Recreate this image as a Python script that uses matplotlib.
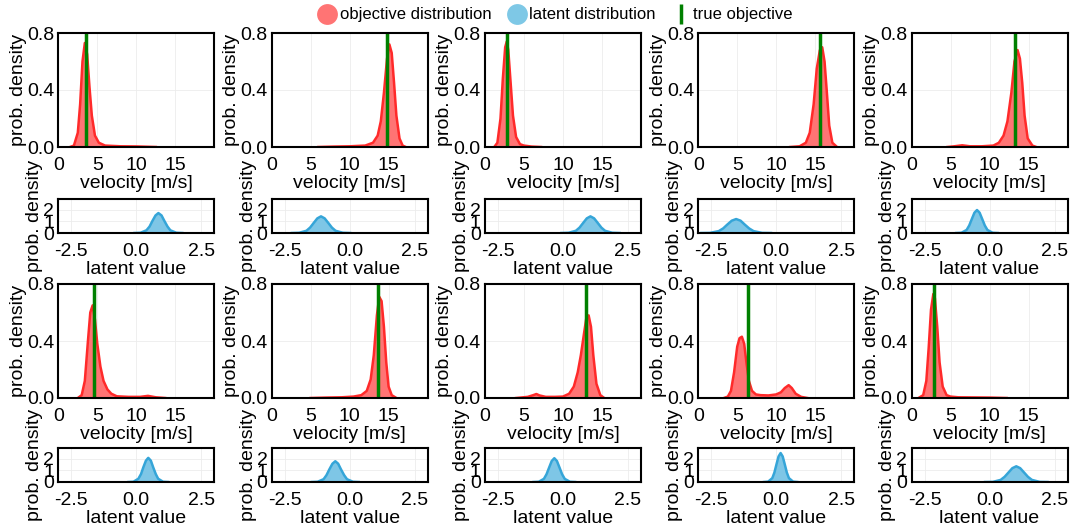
import numpy as np
import matplotlib
matplotlib.use('Agg')
import matplotlib.pyplot as plt
from matplotlib.lines import Line2D

plt.rcParams['font.family'] = ['Liberation Sans', 'DejaVu Sans']

# objective distributions (velocity [m/s] -> prob. density)
obj_x = [
    [1.5, 2.0, 2.5, 2.8, 3.1, 3.4, 3.7, 4.0, 4.3, 4.7, 5.2, 6.0, 8.0, 10.0, 12.5],
    [6.0, 8.0, 10.0, 12.0, 13.0, 13.6, 14.0, 14.4, 14.8, 15.1, 15.4, 15.7, 16.0, 16.4, 16.8, 17.2],
    [1.2, 1.6, 2.0, 2.3, 2.6, 2.8, 3.0, 3.3, 3.6, 4.0, 4.5, 5.0, 6.0, 7.2],
    [11.8, 13.0, 13.8, 14.3, 14.8, 15.2, 15.6, 15.9, 16.2, 16.5, 16.8, 17.2, 17.8],
    [4.6, 5.5, 6.5, 7.5, 9.0, 10.5, 11.2, 11.8, 12.3, 12.8, 13.2, 13.6, 13.9, 14.2, 14.5, 14.9, 15.5, 16.0],
    [2.5, 3.0, 3.4, 3.8, 4.1, 4.4, 4.7, 5.0, 5.4, 5.8, 6.3, 6.8, 7.5, 9.0, 10.5, 11.5, 12.5, 13.7],
    [5.0, 7.0, 9.0, 10.5, 11.5, 12.2, 12.7, 13.1, 13.5, 13.8, 14.1, 14.4, 14.7, 15.0, 15.4, 16.0],
    [4.0, 5.5, 6.2, 6.6, 7.0, 7.8, 9.0, 10.0, 10.8, 11.4, 11.9, 12.3, 12.7, 13.0, 13.3, 13.6, 13.9, 14.3, 14.8, 15.3],
    [3.3, 3.8, 4.2, 4.6, 5.0, 5.3, 5.6, 5.9, 6.2, 6.5, 6.9, 7.4, 8.0, 9.0, 10.0, 10.6, 11.1, 11.6, 12.0, 12.5, 13.2, 14.0],
    [0.9, 1.5, 1.9, 2.2, 2.5, 2.8, 3.0, 3.3, 3.6, 4.0, 4.5, 5.0, 6.0, 8.0, 10.0, 12.2],
]
obj_y = [
    [0, 0.01, 0.10, 0.30, 0.60, 0.73, 0.65, 0.42, 0.22, 0.08, 0.03, 0.01, 0.005, 0.004, 0],
    [0, 0.003, 0.005, 0.01, 0.03, 0.08, 0.18, 0.38, 0.62, 0.72, 0.66, 0.45, 0.22, 0.06, 0.01, 0],
    [0, 0.03, 0.20, 0.48, 0.70, 0.74, 0.68, 0.45, 0.22, 0.07, 0.02, 0.01, 0.003, 0],
    [0, 0.005, 0.03, 0.10, 0.30, 0.55, 0.68, 0.70, 0.60, 0.38, 0.15, 0.03, 0],
    [0, 0.005, 0.012, 0.005, 0.005, 0.01, 0.03, 0.08, 0.18, 0.38, 0.60, 0.68, 0.62, 0.45, 0.22, 0.06, 0.01, 0],
    [0, 0.02, 0.12, 0.40, 0.60, 0.65, 0.55, 0.38, 0.22, 0.12, 0.06, 0.03, 0.012, 0.008, 0.008, 0.015, 0.005, 0],
    [0, 0.003, 0.005, 0.01, 0.02, 0.05, 0.13, 0.30, 0.58, 0.71, 0.68, 0.50, 0.25, 0.08, 0.02, 0],
    [0, 0.008, 0.02, 0.028, 0.018, 0.008, 0.008, 0.01, 0.03, 0.08, 0.18, 0.30, 0.45, 0.56, 0.58, 0.50, 0.30, 0.10, 0.02, 0],
    [0, 0.01, 0.05, 0.18, 0.36, 0.42, 0.43, 0.38, 0.24, 0.12, 0.05, 0.025, 0.02, 0.018, 0.025, 0.04, 0.07, 0.09, 0.07, 0.03, 0.008, 0],
    [0, 0.02, 0.12, 0.35, 0.62, 0.73, 0.70, 0.50, 0.25, 0.08, 0.02, 0.01, 0.005, 0.004, 0.003, 0],
]
true_objective = [3.5, 14.85, 2.8, 15.6, 13.3, 4.6, 13.7, 12.9, 6.4, 2.9]

# latent distributions
lat_x = [
    [-0.07, 0.16, 0.39, 0.51, 0.62, 0.74, 0.85, 0.97, 1.08, 1.20, 1.31, 1.54, 1.77],
    [-2.22, -1.94, -1.66, -1.52, -1.38, -1.24, -1.10, -0.96, -0.82, -0.68, -0.54, -0.26, 0.02],
    [-0.06, 0.22, 0.50, 0.64, 0.78, 0.92, 1.06, 1.20, 1.34, 1.48, 1.62, 1.90, 2.18],
    [-2.88, -2.55, -2.21, -2.04, -1.88, -1.71, -1.54, -1.37, -1.21, -1.04, -0.87, -0.54, -0.20],
    [-1.28, -1.08, -0.88, -0.78, -0.68, -0.58, -0.48, -0.38, -0.28, -0.18, -0.08, 0.12, 0.32],
    [-0.30, -0.11, 0.08, 0.18, 0.27, 0.37, 0.46, 0.56, 0.65, 0.75, 0.84, 1.03, 1.22],
    [-1.45, -1.23, -1.00, -0.89, -0.78, -0.66, -0.55, -0.44, -0.33, -0.21, -0.10, 0.13, 0.35],
    [-1.13, -0.93, -0.73, -0.63, -0.53, -0.43, -0.33, -0.23, -0.13, -0.03, 0.07, 0.27, 0.47],
    [-0.47, -0.31, -0.15, -0.07, 0.01, 0.09, 0.17, 0.25, 0.33, 0.41, 0.49, 0.65, 0.81],
    [-0.17, 0.13, 0.43, 0.58, 0.73, 0.88, 1.03, 1.18, 1.33, 1.48, 1.63, 1.93, 2.23],
]
lat_y = [
    [0, 0.02, 0.23, 0.55, 1.03, 1.50, 1.70, 1.50, 1.03, 0.55, 0.23, 0.02, 0],
    [0, 0.02, 0.19, 0.46, 0.86, 1.25, 1.42, 1.25, 0.86, 0.46, 0.19, 0.02, 0],
    [0, 0.02, 0.19, 0.46, 0.86, 1.25, 1.42, 1.25, 0.86, 0.46, 0.19, 0.02, 0],
    [0, 0.01, 0.16, 0.39, 0.72, 1.05, 1.19, 1.05, 0.72, 0.39, 0.16, 0.01, 0],
    [0, 0.02, 0.26, 0.64, 1.19, 1.73, 1.96, 1.73, 1.19, 0.64, 0.26, 0.02, 0],
    [0, 0.02, 0.28, 0.67, 1.25, 1.82, 2.06, 1.82, 1.25, 0.67, 0.28, 0.02, 0],
    [0, 0.02, 0.24, 0.58, 1.07, 1.56, 1.77, 1.56, 1.07, 0.58, 0.24, 0.02, 0],
    [0, 0.02, 0.27, 0.66, 1.23, 1.79, 2.03, 1.79, 1.23, 0.66, 0.27, 0.02, 0],
    [0, 0.03, 0.33, 0.80, 1.50, 2.18, 2.47, 2.18, 1.50, 0.80, 0.33, 0.03, 0],
    [0, 0.01, 0.18, 0.44, 0.81, 1.18, 1.34, 1.18, 0.81, 0.44, 0.18, 0.01, 0],
]

W, H = 1073, 530
FS = 14
fig = plt.figure(figsize=(W / 100, H / 100), dpi=100)

def px_axes(left, top, width, height):
    return fig.add_axes([left / W, 1 - (top + height) / H, width / W, height / H])

def style(ax):
    for s in ax.spines.values():
        s.set_linewidth(1.5)
    ax.grid(True, color='#ececec', linewidth=0.6)
    ax.set_axisbelow(True)
    ax.tick_params(length=0, labelsize=FS)
    ax.tick_params(axis='x', pad=7)
    ax.tick_params(axis='y', pad=3)

red_line = '#ff2a2a'
red_fill = '#ff7474'
blue_line = '#35a5d8'
blue_fill = '#7ec6e6'

for i in range(10):
    row, col = divmod(i, 5)
    left = 58.3 + col * 213.3
    top_big = 33 if row == 0 else 284
    top_small = 199 if row == 0 else 448

    ax = px_axes(left, top_big, 156, 114)
    style(ax)
    ax.fill_between(obj_x[i], obj_y[i], color=red_fill, linewidth=0)
    ax.plot(obj_x[i], obj_y[i], color=red_line, linewidth=1.8)
    ax.axvline(true_objective[i], color='green', linewidth=2.5)
    ax.set_xlim(0, 20)
    ax.set_ylim(0, 0.8)
    ax.set_xticks([0, 5, 10, 15])
    ax.set_yticks([0.0, 0.4, 0.8])
    ax.set_yticklabels(['0.0', '0.4', '0.8'])
    ax.set_xlabel('velocity [m/s]', fontsize=FS, labelpad=1)
    ax.set_ylabel('prob. density', fontsize=FS, labelpad=0)

    ax2 = px_axes(left, top_small, 156, 34)
    style(ax2)
    ax2.fill_between(lat_x[i], lat_y[i], color=blue_fill, linewidth=0)
    ax2.plot(lat_x[i], lat_y[i], color=blue_line, linewidth=1.8)
    ax2.set_xlim(-3, 3)
    ax2.set_ylim(0, 2.9)
    ax2.set_xticks([-2.5, 0.0, 2.5])
    ax2.set_xticklabels(['-2.5', '0.0', '2.5'])
    ax2.set_yticks([0, 1, 2])
    ax2.set_xlabel('latent value', fontsize=FS, labelpad=1)
    ax2.set_ylabel('prob. density', fontsize=FS, labelpad=0)

handles = [
    Line2D([], [], linestyle='none', marker='o', markersize=15,
           markerfacecolor=red_fill, markeredgecolor='none', label='objective distribution'),
    Line2D([], [], linestyle='none', marker='o', markersize=15,
           markerfacecolor='#7ec8e6', markeredgecolor='none', label='latent distribution'),
    Line2D([], [], linestyle='none', marker='|', markersize=15, markeredgewidth=2.5,
           color='green', label='true objective'),
]
fig.legend(handles=handles, loc='center', bbox_to_anchor=(555 / W, 1 - 15 / H),
           ncol=3, frameon=False, fontsize=12, handletextpad=0.15, columnspacing=0.9,
           handlelength=1.2)

fig.savefig('out.png', dpi=100)
